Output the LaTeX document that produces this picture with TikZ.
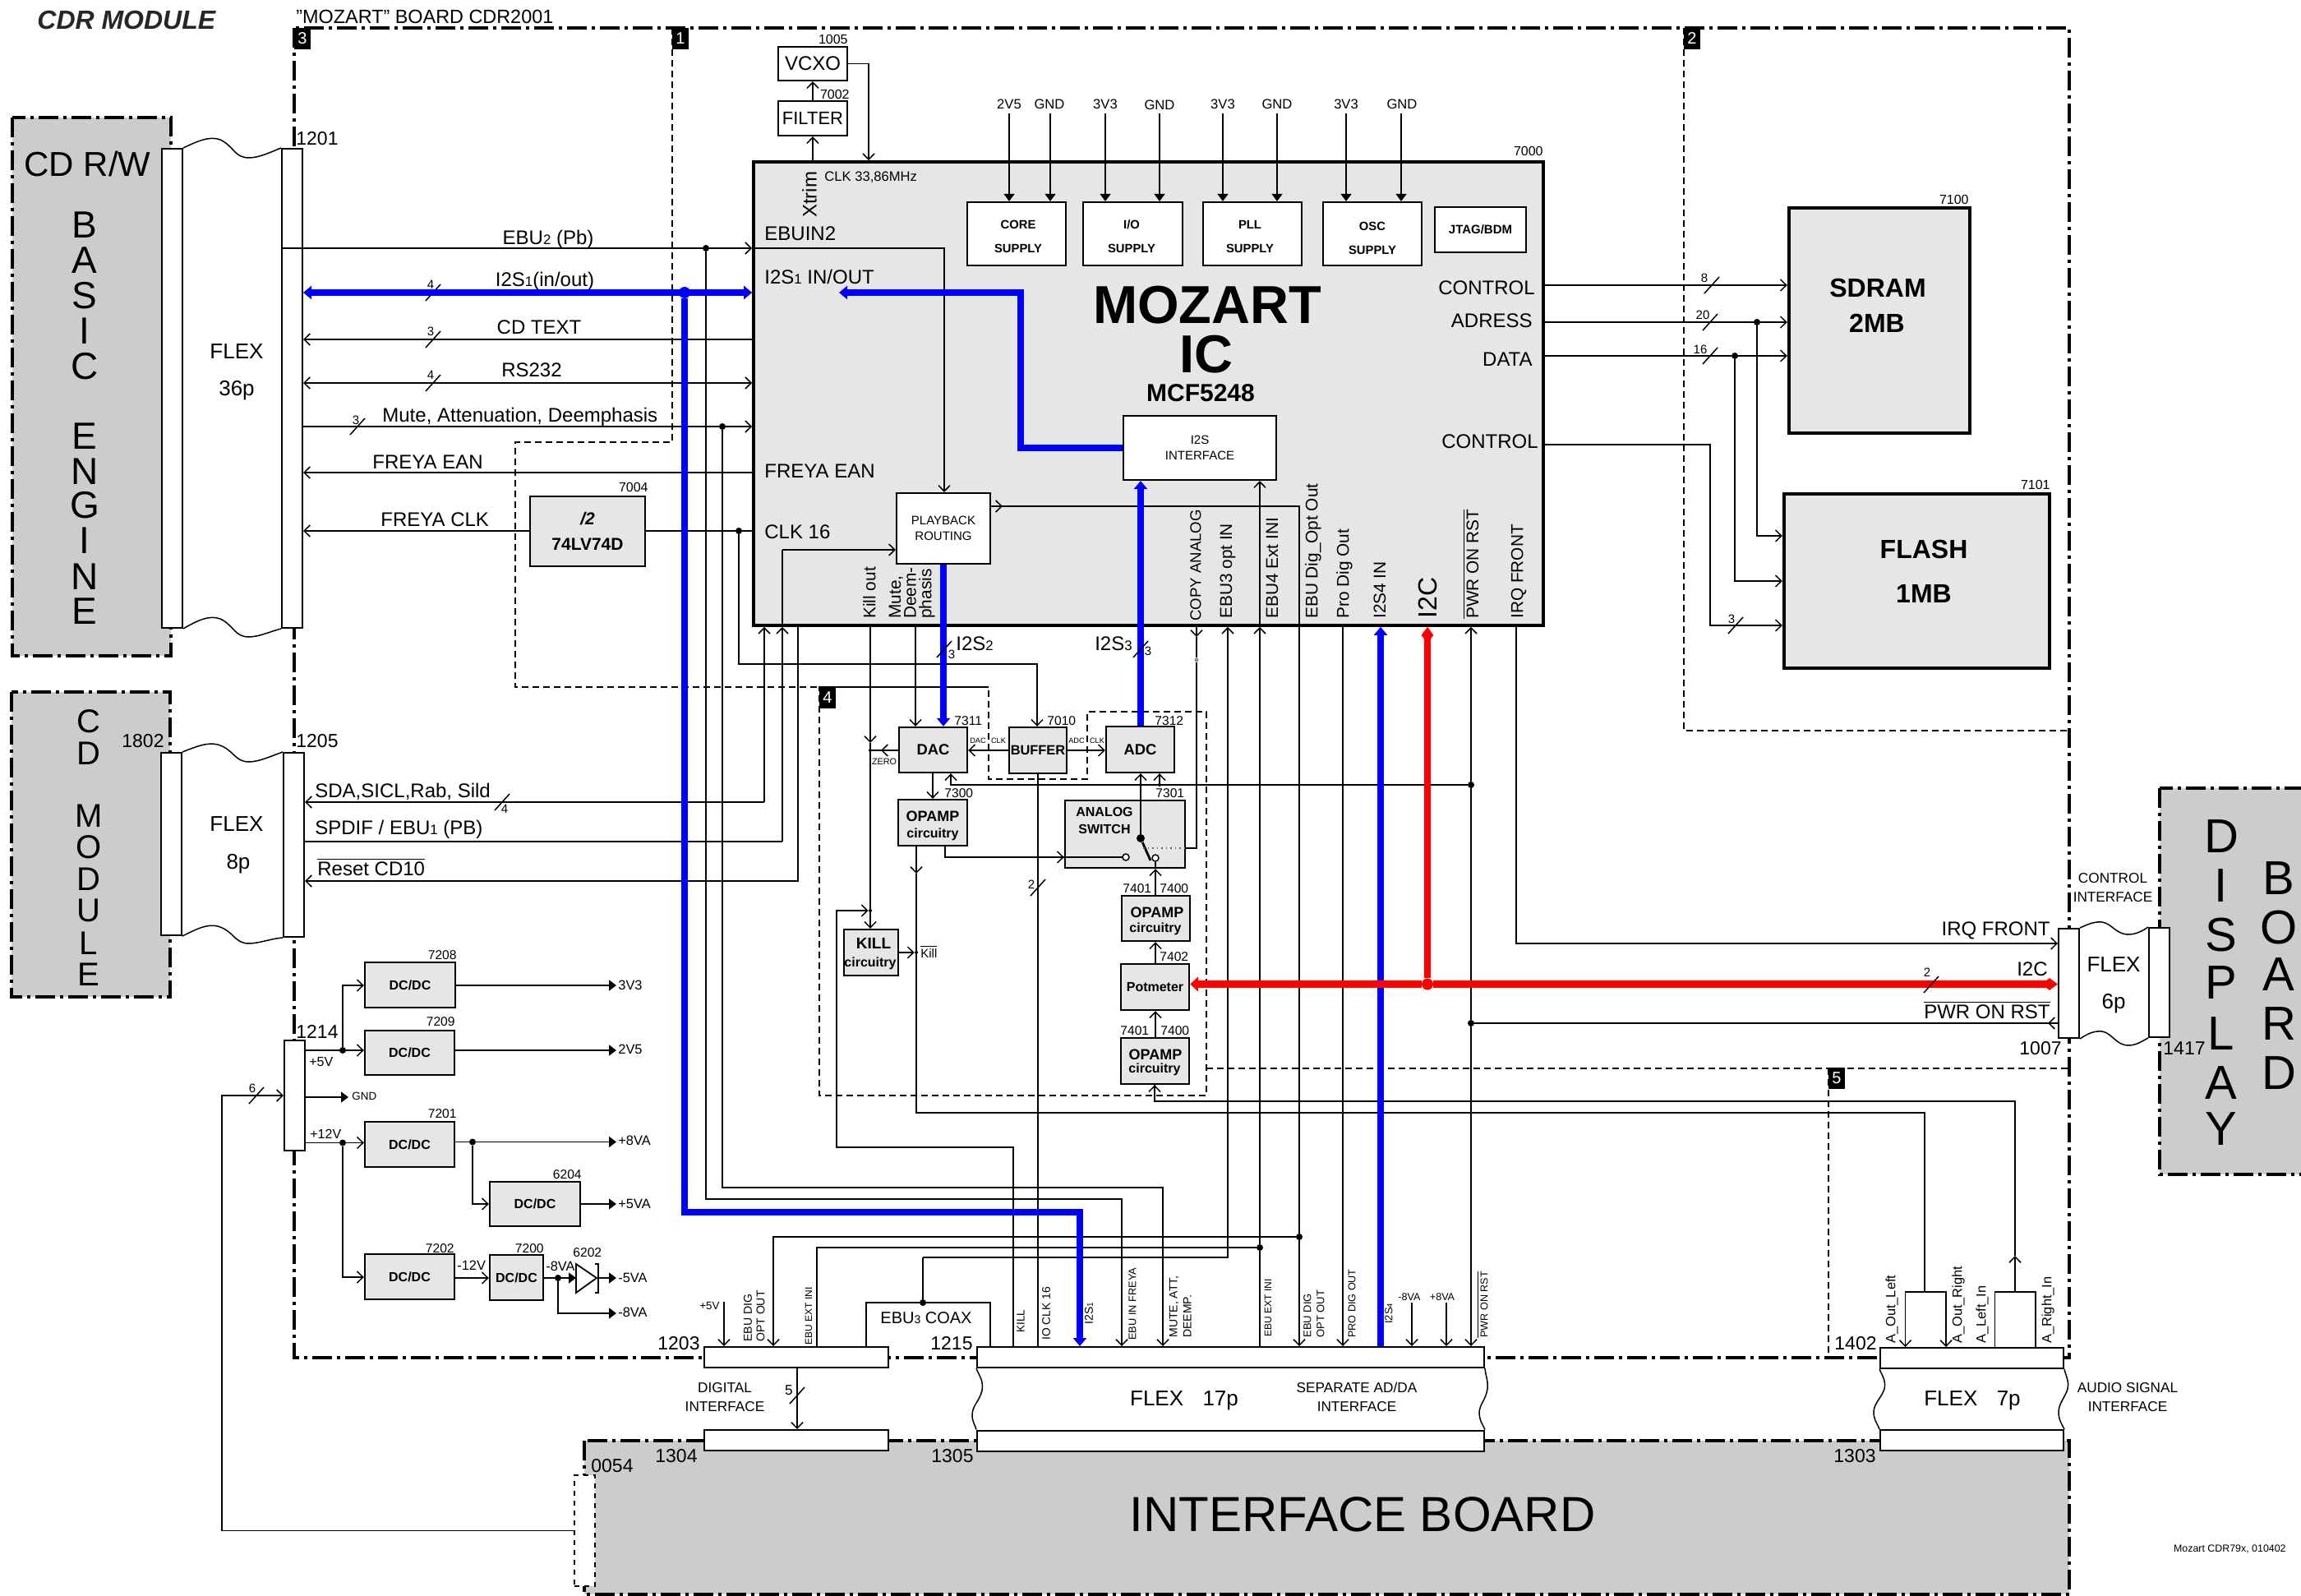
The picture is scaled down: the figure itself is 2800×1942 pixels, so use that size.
\documentclass[tikz,border=0pt]{standalone}
\usepackage{fontspec}
\usepackage{graphicx}
\setmainfont{Liberation Sans}
\usetikzlibrary{arrows.meta}
\definecolor{board}{RGB}{204,204,204}
\definecolor{chip}{RGB}{230,230,230}
\definecolor{busblue}{RGB}{0,0,255}
\definecolor{busred}{RGB}{255,0,0}
\newcommand{\lo}[1]{\scalebox{.7}{#1}}
\newcommand{\barred}[1]{$\overline{\mbox{#1}}$}
\tikzset{
	fsl/.style 2 args={font=\fontsize{#1}{#2}\selectfont,inner sep=0pt,align=center},
	fbl/.style 2 args={font=\bfseries\fontsize{#1}{#2}\selectfont,inner sep=0pt,align=center},
	fs/.style={fsl={#1}{#1}},
	fb/.style={fbl={#1}{#1}},
	wh/.style 2 args={minimum width=#1*0.5pt,minimum height=#2*0.5pt},
	blk/.style={draw,fill=chip,line width=1.2pt,inner sep=0pt},
	wblk/.style={draw,fill=white,line width=1.1pt,inner sep=0pt},
	strip/.style={draw,fill=white,line width=1pt,inner sep=0pt},
	tagbox/.style={fill=black,text=white,inner sep=0pt,font=\fontsize{10}{10}\selectfont},
	jdot/.style={circle,fill=black,inner sep=0pt,minimum size=4pt},
	jsmall/.style={circle,fill=black,inner sep=0pt,minimum size=2pt},
	sig/.style={line width=.75pt},
	sigto/.style={sig,-{Straight Barb[length=3.6pt,width=7pt]}},
	sigboth/.style={sig,{Straight Barb[length=3.6pt,width=7pt]}-{Straight Barb[length=3.6pt,width=7pt]}},
	pwrto/.style={sig,-{Triangle[length=4.5pt,width=6.5pt]}},
	blueb/.style={line width=3.8pt,busblue},
	redb/.style={line width=4.4pt,busred},
	frame/.style={line width=1.7pt,dash pattern=on 12pt off 3pt on 2pt off 3pt},
	sect/.style={line width=1pt,dash pattern=on 4pt off 2.5pt},
	cut/.pic={\draw[sig] (-9,10) -- (9,-10);}
}
\begin{document}
\begin{tikzpicture}[x=0.5pt,y=-0.5pt]
	\useasboundingbox (0,0) rectangle (2800,1942);
	% boards and frames
	\draw[frame,fill=board] (15,143) rectangle (208,798);
	\draw[frame,fill=board] (14,842) rectangle (207,1213);
	\draw[frame,fill=board] (2628,959) rectangle (2806,1429);
	\draw[frame,fill=board] (711,1753) rectangle (2518,1940);
	\draw[frame] (358,34) rectangle (2518,1652);
	\draw[sect] (818,34) -- (818,538) -- (627,538) -- (627,836) -- (1203,836) -- (1203,948) -- (1323,948) -- (1323,866) -- (1468,866) -- (1468,1333) -- (997,1333) -- (997,836) -- (1203,836);
	\draw[sect] (1468,1300) -- (2518,1300);
	\draw[sect] (2225,1300) -- (2225,1652);
	\draw[sect] (2049,34) -- (2049,889) -- (2518,889);
	\node[tagbox,wh={20}{26}] (tag3) at (368,47) {3};
	\node[tagbox,wh={20}{26}] (tag1) at (828,47) {1};
	\node[tagbox,wh={20}{26}] (tag2) at (2059,47) {2};
	\node[tagbox,wh={20}{26}] (tag4) at (1007,849) {4};
	\node[tagbox,wh={20}{26}] (tag5) at (2235,1312) {5};
	% titles
	\node[font=\bfseries\itshape\fontsize{16}{16}\selectfont,inner sep=0pt,text=black!85,anchor=west] (title) at (45,24) {CDR MODULE};
	\node[fs=11.7,anchor=west] (boardname) at (360,20) {"MOZART" BOARD CDR2001};
	\node[fs=21,anchor=west] (cdrw) at (29,199) {CD R/W};
	\node[fs=23] (b1) at (103,274) {B};
	\node[fs=23] (b2) at (103,317) {A};
	\node[fs=23] (b3) at (103,360) {S};
	\node[fs=23] (b4) at (103,403) {I};
	\node[fs=23] (b5) at (103,446) {C};
	\node[fs=23] (e1) at (103,531) {E};
	\node[fs=23] (e2) at (103,574) {N};
	\node[fs=23] (e3) at (103,615) {G};
	\node[fs=23] (e4) at (103,658) {I};
	\node[fs=23] (e5) at (103,702) {N};
	\node[fs=23] (e6) at (103,744) {E};
	\node[fs=20] (c1) at (108,878) {C};
	\node[fs=20] (c2) at (108,917) {D};
	\node[fs=20] (m1) at (108,993) {M};
	\node[fs=20] (m2) at (108,1031) {O};
	\node[fs=20] (m3) at (108,1070) {D};
	\node[fs=20] (m4) at (108,1108) {U};
	\node[fs=20] (m5) at (108,1148) {L};
	\node[fs=20] (m6) at (108,1186) {E};
	\node[fs=29] (d1) at (2703,1018) {D};
	\node[fs=29] (d2) at (2703,1078) {I};
	\node[fs=29] (d3) at (2703,1138) {S};
	\node[fs=29] (d4) at (2703,1196) {P};
	\node[fs=29] (d5) at (2703,1258) {L};
	\node[fs=29] (d6) at (2703,1318) {A};
	\node[fs=29] (d7) at (2703,1374) {Y};
	\node[fs=29] (o1) at (2773,1069) {B};
	\node[fs=29] (o2) at (2773,1129) {O};
	\node[fs=29] (o3) at (2773,1186) {A};
	\node[fs=29] (o4) at (2773,1246) {R};
	\node[fs=29] (o5) at (2773,1306) {D};
	\node[fs=30] (ifboard) at (1658,1843) {INTERFACE BOARD};
	\node[fs=6.2,anchor=east] (stamp) at (2782,1885) {Mozart CDR79x, 010402};
	% flex connectors
	\node[strip,wh={25}{583}] (s1201a) at (209.5,472.5) {};
	\node[strip,wh={25}{583}] (s1201b) at (355.5,472.5) {};
	\node[strip,wh={25}{222}] (s1802) at (208.5,1027) {};
	\node[strip,wh={25}{224}] (s1205) at (357.5,1028) {};
	\node[strip,wh={25}{134}] (s1214) at (358.5,1333) {};
	\node[strip,wh={25}{133}] (s1007) at (2517.5,1196.5) {};
	\node[strip,wh={25}{133}] (s1417) at (2627.5,1195.5) {};
	\node[strip,wh={224}{25}] (c1203) at (969,1651.5) {};
	\node[strip,wh={224}{25}] (c1304) at (969,1752.5) {};
	\node[strip,wh={617}{25}] (f17a) at (1497.5,1651.5) {};
	\node[strip,wh={617}{25}] (f17b) at (1497.5,1753) {};
	\node[strip,wh={223}{25}] (f7a) at (2399.5,1652.5) {};
	\node[strip,wh={223}{25}] (f7b) at (2399.5,1752.5) {};
	\node[strip,dashed,wh={25}{135}] (s0054) at (711.5,1862.5) {};
	\draw[sig] (s1201a.north east) .. controls (240,172) and (255,165) .. (268,170) .. controls (285,178) and (285,192) .. (303,192) .. controls (315,192) and (330,185) .. (s1201b.north west);
	\draw[sig] (s1201a.south east) .. controls (240,755) and (255,748) .. (268,753) .. controls (285,761) and (285,775) .. (303,775) .. controls (315,775) and (330,768) .. (s1201b.south west);
	\draw[sig] (s1802.north east) .. controls (240,908) and (252,903) .. (265,906) .. controls (285,912) and (285,927) .. (303,927) .. controls (315,927) and (330,920) .. (s1205.north west);
	\draw[sig] (s1802.south east) .. controls (240,1130) and (252,1124) .. (265,1127) .. controls (285,1133) and (285,1148) .. (303,1148) .. controls (315,1148) and (330,1142) .. (s1205.south west);
	\draw[sig] (s1007.north east) .. controls (2540,1125) and (2548,1121) .. (2558,1122) .. controls (2570,1124) and (2575,1137) .. (2590,1137) .. controls (2600,1137) and (2608,1132) .. (s1417.north west);
	\draw[sig] (s1007.south east) .. controls (2540,1258) and (2548,1254) .. (2558,1255) .. controls (2570,1257) and (2575,1272) .. (2590,1272) .. controls (2600,1272) and (2608,1266) .. (s1417.south west);
	\draw[sig] (f17a.south west) .. controls (1192,1675) and (1197,1680) .. (1195,1692) .. controls (1192,1705) and (1183,1710) .. (1183,1722) .. controls (1183,1730) and (1187,1735) .. (f17b.north west);
	\draw[sig] (f17a.south east) .. controls (1808,1675) and (1811,1680) .. (1810,1690) .. controls (1808,1703) and (1801,1708) .. (1800,1718) .. controls (1800,1728) and (1804,1733) .. (f17b.north east);
	\draw[sig] (f7a.south west) .. controls (2291,1675) and (2295,1680) .. (2293,1690) .. controls (2290,1700) and (2280,1708) .. (2280,1718) .. controls (2280,1728) and (2285,1733) .. (f7b.north west);
	\draw[sig] (f7a.south east) .. controls (2514,1675) and (2518,1680) .. (2516,1690) .. controls (2513,1700) and (2505,1708) .. (2505,1718) .. controls (2505,1728) and (2509,1733) .. (f7b.north east);
	\node[fs=13] (flex36) at (288,428) {FLEX};
	\node[fs=13] (p36) at (288,475) {36p};
	\node[fs=13] (flex8) at (288,1003) {FLEX};
	\node[fs=13] (p8) at (290,1051) {8p};
	\node[fs=13] (flex6) at (2572,1174) {FLEX};
	\node[fs=13] (p6) at (2572,1221) {6p};
	\node[fs=13] (flex17) at (1441,1704) {FLEX\hspace{.9em}17p};
	\node[fs=13] (flex7) at (2400,1704) {FLEX\hspace{.9em}7p};
	\node[fsl={8.6}{11.5}] (sepif) at (1651,1700) {SEPARATE AD/DA\\INTERFACE};
	\node[fsl={8.6}{11.5}] (digif) at (882,1700) {DIGITAL\\INTERFACE};
	\node[fsl={8.6}{11.5}] (audif) at (2589,1700) {AUDIO SIGNAL\\INTERFACE};
	\node[fsl={8.6}{11.5}] (ctlif) at (2571,1080) {CONTROL\\INTERFACE};
	\node[fs=11.5,anchor=west] (n1201) at (360,169) {1201};
	\node[fs=11.5,anchor=west] (n1802) at (148,902) {1802};
	\node[fs=11.5,anchor=west] (n1205) at (360,902) {1205};
	\node[fs=11.5,anchor=west] (n1214) at (360,1255) {1214};
	\node[fs=11.5,anchor=west] (n1007) at (2457,1276) {1007};
	\node[fs=11.5,anchor=west] (n1417) at (2632,1276) {1417};
	\node[fs=11.5,anchor=west] (n1203) at (800,1635) {1203};
	\node[fs=11.5,anchor=west] (n1215) at (1132,1635) {1215};
	\node[fs=11.5,anchor=west] (n1304) at (797,1772) {1304};
	\node[fs=11.5,anchor=west] (n1305) at (1133,1772) {1305};
	\node[fs=11.5,anchor=west] (n1402) at (2232,1635) {1402};
	\node[fs=11.5,anchor=west] (n1303) at (2231,1772) {1303};
	\node[fs=11.5,anchor=west] (n0054) at (719,1784) {0054};
	% main chip
	\node[blk,line width=1.8pt,wh={961}{564}] (ic) at (1397.5,479) {};
	\node[wblk,wh={84}{41}] (vcxo) at (989,77.5) {\fontsize{12}{12}\selectfont VCXO};
	\node[wblk,wh={84}{42}] (filter) at (989,144) {\fontsize{11}{11}\selectfont FILTER};
	\node[fs=8,anchor=east] (n1005) at (1032,48) {1005};
	\node[fs=8,anchor=east] (n7002) at (1034,115) {7002};
	\node[fs=8,anchor=east] (n7000) at (1878,184) {7000};
	\node[wblk,wh={120}{77}] (core) at (1237,284.5) {};
	\node[wblk,wh={121}{77}] (iosup) at (1378.5,284.5) {};
	\node[wblk,wh={120}{77}] (pll) at (1524,284.5) {};
	\node[wblk,wh={120}{77}] (osc) at (1670,284.5) {};
	\node[fbl={7.4}{14.5}] (coret) at (1239,288) {CORE\\SUPPLY};
	\node[fbl={7.4}{14.5}] (iosupt) at (1377,288) {I/O\\SUPPLY};
	\node[fbl={7.4}{14.5}] (pllt) at (1521,288) {PLL\\SUPPLY};
	\node[fbl={7.4}{14.5}] (osct) at (1670,290) {OSC\\SUPPLY};
	\node[wblk,fb=7.5,wh={111}{55}] (jtag) at (1801.5,279.5) {JTAG/BDM};
	\node[fb=32.5] (mozart) at (1469,371) {MOZART};
	\node[fb=32.5] (mozic) at (1468,431) {IC};
	\node[fb=15] (mcf) at (1461,478) {MCF5248};
	\node[wblk,fsl={7.5}{9.2},wh={186}{78}] (i2sbox) at (1460,545) {I2S\\INTERFACE};
	\node[wblk,fsl={7.5}{9.2},wh={114}{86}] (playback) at (1148,643) {PLAYBACK\\ROUTING};
	\node[fs=12,anchor=west] (ebuin) at (930,284) {EBUIN2};
	\node[fs=12,anchor=west] (i2sio) at (930,337) {I2S\lo{1} IN/OUT};
	\node[fs=12,anchor=west] (freyain) at (930,573) {FREYA EAN};
	\node[fs=12,anchor=west] (clk16) at (930,647) {CLK 16};
	\node[fs=12,anchor=east] (ctl1) at (1868,350) {CONTROL};
	\node[fs=12,anchor=east] (adr) at (1865,390) {ADRESS};
	\node[fs=12,anchor=east] (dta) at (1865,437) {DATA};
	\node[fs=12,anchor=east] (ctl2) at (1872,537) {CONTROL};
	\node[fs=12,rotate=90] (xtrim) at (985,237) {Xtrim};
	\node[fs=8.3,anchor=west] (clk33) at (1003,216) {CLK 33,86MHz};
	\node[fs=10.4,rotate=90,anchor=west] (kout) at (1058,753) {Kill out};
	\node[fsl={10.4}{9.3},rotate=90,anchor=south west,align=left] (mute) at (1138,753) {Mute,\\Deem-\\phasis};
	\node[fs=9.3,rotate=90,anchor=west] (copy) at (1455,756) {COPY ANALOG};
	\node[fs=10.4,rotate=90,anchor=west] (ebu3) at (1494,753) {EBU3 opt IN};
	\node[fs=10.4,rotate=90,anchor=west] (ebu4) at (1548,753) {EBU4 Ext INI};
	\node[fs=10.4,rotate=90,anchor=west] (ebud) at (1598,753) {EBU Dig\_Opt Out};
	\node[fs=10.4,rotate=90,anchor=west] (pro) at (1636,753) {Pro Dig Out};
	\node[fs=10.4,rotate=90,anchor=west] (i2s4) at (1679,753) {I2S4 IN};
	\node[fs=16,rotate=90,anchor=west] (i2c) at (1737,753) {I2C};
	\node[fs=10.4,rotate=90,anchor=west] (pwr) at (1790,753) {\barred{PWR ON RST}};
	\node[fs=10.4,rotate=90,anchor=west] (irq) at (1848,753) {IRQ FRONT};
	% memories
	\node[blk,line width=2.2pt,wh={220}{274}] (sdram) at (2287,390) {};
	\node[fb=16] (sdramt) at (2285,350) {SDRAM};
	\node[fb=16] (sdramm) at (2284,393) {2MB};
	\node[blk,line width=2.2pt,wh={323}{212}] (flash) at (2332.5,707) {};
	\node[fb=16] (flasht) at (2341,668) {FLASH};
	\node[fb=16] (flashm) at (2341,722) {1MB};
	\node[fs=8,anchor=east] (n7100) at (2396,243) {7100};
	\node[fs=8,anchor=east] (n7101) at (2495,590) {7101};
	% audio blocks
	\node[blk,fbl={10.5}{15.5},wh={140}{85}] (lv74) at (715,646.5) {\textit{/2}\\74LV74D};
	\node[fs=8,anchor=east] (n7004) at (789,593) {7004};
	\node[blk,fb=9.2,wh={83}{55}] (dac) at (1135.5,912.5) {DAC};
	\node[blk,fb=8.2,wh={70}{56}] (buffer) at (1263,913) {BUFFER};
	\node[blk,fb=9.2,wh={83}{56}] (adc) at (1387.5,912) {ADC};
	\node[blk,wh={84}{56}] (opa) at (1135,1001) {};
	\node[fb=9] (opat) at (1135,993) {OPAMP};
	\node[fb=8] (opac) at (1135,1015) {circuitry};
	\node[blk,wh={146}{82}] (switch) at (1369,1015) {};
	\node[fbl={8}{10.5},anchor=north] (swt) at (1344,982) {ANALOG\\SWITCH};
	\node[blk,wh={66}{56}] (kill) at (1060,1159) {};
	\node[fb=9.5] (killt) at (1063,1148) {KILL};
	\node[fb=8] (killc) at (1059,1172) {circuitry};
	\node[blk,wh={83}{55}] (opb) at (1406.5,1117.5) {};
	\node[fb=9] (opbt) at (1408,1110) {OPAMP};
	\node[fb=8] (opbc) at (1406,1130) {circuitry};
	\node[blk,fb=8,wh={83}{56}] (pot) at (1405.5,1201) {Potmeter};
	\node[blk,wh={83}{56}] (opc) at (1405.5,1291) {};
	\node[fb=9] (opct) at (1406,1283) {OPAMP};
	\node[fb=8] (opcc) at (1405,1301) {circuitry};
	\node[fs=7.8,anchor=west] (n7311) at (1161,877) {7311};
	\node[fs=7.8,anchor=west] (n7010) at (1274,877) {7010};
	\node[fs=7.8,anchor=west] (n7312) at (1405,877) {7312};
	\node[fs=7.8,anchor=west] (n7300) at (1149,965) {7300};
	\node[fs=7.8,anchor=west] (n7301) at (1406,965) {7301};
	\node[fs=7.8,anchor=west] (n7401a) at (1366,1081) {7401};
	\node[fs=7.8,anchor=west] (n7400a) at (1411,1081) {7400};
	\node[fs=7.8,anchor=west] (n7402) at (1411,1164) {7402};
	\node[fs=7.8,anchor=west] (n7401b) at (1363,1254) {7401};
	\node[fs=7.8,anchor=west] (n7400b) at (1412,1254) {7400};
	\node[fs=4.6] (tdac) at (1190,901) {DAC};
	\node[fs=4.6] (tclka) at (1215,901) {CLK};
	\node[fs=4.6] (tadc) at (1310,901) {ADC};
	\node[fs=4.6] (tclkb) at (1335,901) {CLK};
	\node[fs=5.4] (tzero) at (1076,927) {ZERO};
	\node[fs=7.5,anchor=west] (tkill) at (1120,1158) {\barred{Kill}};
	% power blocks
	\node[blk,fb=8,wh={110}{55}] (d7208) at (499,1198.5) {DC/DC};
	\node[blk,fb=8,wh={109}{54}] (d7209) at (498.5,1281) {DC/DC};
	\node[blk,fb=8,wh={109}{55}] (d7201) at (498.5,1392.5) {DC/DC};
	\node[blk,fb=8,wh={110}{54}] (d6204) at (651,1465) {DC/DC};
	\node[blk,fb=8,wh={109}{55}] (d7202) at (498.5,1553.5) {DC/DC};
	\node[blk,fb=8,wh={65}{55}] (d7200) at (628.5,1554.5) {DC/DC};
	\node[fs=7.8,anchor=east] (n7208) at (556,1162) {7208};
	\node[fs=7.8,anchor=east] (n7209) at (554,1243) {7209};
	\node[fs=7.8,anchor=east] (n7201) at (556,1355) {7201};
	\node[fs=7.8,anchor=east] (n6204) at (708,1429) {6204};
	\node[fs=7.8,anchor=east] (n7202) at (553,1519) {7202};
	\node[fs=7.8,anchor=east] (n7200) at (662,1519) {7200};
	\node[fs=7.8,anchor=west] (n6202) at (697,1524) {6202};
	\coordinate (dioa) at (701,1555);
	\coordinate (diob) at (728,1555);
	\draw[line width=.9pt] (701,1538) -- (701,1573) -- (726,1555) -- cycle;
	\draw[line width=.9pt] (724,1538) -- (728,1538) -- (728,1573) -- (724,1573);
	% junctions
	\node[jdot] (jebu) at (859,302) {};
	\node[jdot] (jmute) at (879,519) {};
	\node[jdot] (jclk) at (899,646) {};
	\node[jdot] (jrst) at (1790,955) {};
	\node[jdot] (jpwr) at (1790,1245) {};
	\node[jdot] (jcoax) at (1123,1585) {};
	\node[jdot] (jext) at (1533,1518) {};
	\node[jdot] (jdig) at (1581,1505) {};
	\node[jdot] (jadr) at (2138,392) {};
	\node[jdot] (jdata) at (2111,433) {};
	\node[jdot] (j5v) at (417,1278) {};
	\node[jdot] (j12v) at (417,1390.5) {};
	\node[jdot] (j8va) at (575,1389.5) {};
	\node[jdot] (jneg) at (679,1555) {};
	\node[jsmall] (jzero) at (1059,913) {};
	\node[jsmall] (jkill) at (1059,1108) {};
	\node[jsmall] (jkbar) at (1115,1159) {};
	\node[jsmall] (jadc) at (1411,955) {};
	\node[circle,fill=black!45,inner sep=0pt,minimum size=2.5pt] (jcopy) at (1456,803) {};
	% rails to the CD R/W flex
	\draw[sigto] (s1201b.west |- jebu) -- (ic.west |- jebu);
	\draw[sigto] (ic.west |- 0,413) -- (s1201b.east |- 0,413);
	\draw[sigboth] (s1201b.east |- 0,466) -- (ic.west |- 0,466);
	\draw[sigto] (s1201b.east |- jmute) -- (ic.west |- jmute);
	\draw[sigto] (ic.west |- 0,575) -- (s1201b.east |- 0,575);
	\draw[sigto] (lv74.west |- jclk) -- (s1201b.east |- jclk);
	\draw[sig] (ic.west |- jclk) -- (lv74.east |- jclk);
	\pic at (527,356) {cut};
	\pic at (527,413) {cut};
	\pic at (527,466) {cut};
	\pic at (435,519) {cut};
	\node[fs=7.5] (c4a) at (524,346) {4};
	\node[fs=7.5] (c3a) at (524,403) {3};
	\node[fs=7.5] (c4b) at (524,456) {4};
	\node[fs=7.5] (c3b) at (433,511) {3};
	\node[fs=12] (tebu) at (667,291) {EBU\lo{2} (Pb)};
	\node[fs=12] (ti2s) at (663,342) {I2S\lo{1}(in/out)};
	\node[fs=12] (ttext) at (656,398) {CD TEXT};
	\node[fs=12] (trs) at (647,450) {RS232};
	\node[fs=12,anchor=west] (tmute) at (465,507) {Mute, Attenuation, Deemphasis};
	\node[fs=12,anchor=west] (tfean) at (453,562) {FREYA EAN};
	\node[fs=12,anchor=west] (tfclk) at (463,632) {FREYA CLK};
	% rails to the CD module flex
	\draw[sigto] (930,976) -- (ic.south -| 930,0);
	\draw[sigto] (930,976) -- (s1205.east |- 0,976);
	\draw[sig] (s1205.east |- 0,1024) -- (952,1024);
	\draw[sigto] (952,1024) -- (ic.south -| 952,0);
	\draw[sig] (ic.south -| 952,0) -- (952,669);
	\draw[sigto] (952,669) -- (playback.west |- 0,669);
	\draw[sigto] (ic.south -| 971,0) -- (971,1072) -- (s1205.east |- 0,1072);
	\pic at (611,976) {cut};
	\node[fs=7.5] (c4c) at (614,984) {4};
	\node[fs=12,anchor=west] (tsda) at (383,963) {SDA,SICL,Rab, Sild};
	\node[fs=12,anchor=west] (tspdif) at (383,1009) {SPDIF / EBU\lo{1} (PB)};
	\node[fs=12,anchor=west] (treset) at (386,1055) {\barred{Reset CD10}};
	% clock section
	\draw[sigto] (filter.south |- ic.north) -- (filter.south);
	\draw[sigto] (filter.north) -- (vcxo.south);
	\draw[sigto] (vcxo.east) -- (1057,77.5) -- (ic.north -| 1057,0);
	% supply feeds
	\coordinate (p1) at (1228,138);
	\coordinate (p2) at (1278,138);
	\coordinate (p3) at (1345,138);
	\coordinate (p4) at (1411,138);
	\coordinate (p5) at (1488,138);
	\coordinate (p6) at (1554,138);
	\coordinate (p7) at (1638,138);
	\coordinate (p8) at (1705,138);
	\draw[pwrto] (p1) -- (core.north -| p1);
	\draw[pwrto] (p2) -- (core.north -| p2);
	\draw[pwrto] (p3) -- (iosup.north -| p3);
	\draw[pwrto] (p4) -- (iosup.north -| p4);
	\draw[pwrto] (p5) -- (pll.north -| p5);
	\draw[pwrto] (p6) -- (pll.north -| p6);
	\draw[pwrto] (p7) -- (osc.north -| p7);
	\draw[pwrto] (p8) -- (osc.north -| p8);
	\node[fs=8.3] (v1) at (1228,127) {2V5};
	\node[fs=8.3] (g1) at (1277,127) {GND};
	\node[fs=8.3] (v2) at (1345,127) {3V3};
	\node[fs=8.3] (g2) at (1411,128) {GND};
	\node[fs=8.3] (v3) at (1488,127) {3V3};
	\node[fs=8.3] (g3) at (1554,127) {GND};
	\node[fs=8.3] (v4) at (1638,127) {3V3};
	\node[fs=8.3] (g4) at (1706,127) {GND};
	% memory rails
	\draw[sigto] (ic.east |- 0,347) -- (sdram.west |- 0,347);
	\draw[sigto] (ic.east |- jadr) -- (sdram.west |- jadr);
	\draw[sigto] (ic.east |- jdata) -- (sdram.west |- jdata);
	\draw[sigto] (jadr) -- (2138,652) -- (flash.west |- 0,652);
	\draw[sigto] (jdata) -- (2111,707) -- (flash.west |- 0,707);
	\draw[sigto] (ic.east |- 0,541) -- (2081,541) -- (2081,761) -- (flash.west |- 0,761);
	\pic at (2083,347) {cut};
	\pic at (2081,392) {cut};
	\pic at (2081,433) {cut};
	\pic at (2112,761) {cut};
	\node[fs=7.5] (c8) at (2074,338) {8};
	\node[fs=7.5] (c20) at (2072,383) {20};
	\node[fs=7.5] (c16) at (2069,425) {16};
	\node[fs=7.5] (c3c) at (2107,753) {3};
	% long runs to the flex 17p
	\draw[sigto] (jebu) -- (859,1459) -- (1365,1459) -- (f17a.north -| 1365,0);
	\draw[sigto] (jmute) -- (879,1445) -- (1415,1445) -- (f17a.north -| 1415,0);
	\draw[sigto] (jclk) -- (899,808) -- (1262,808) -- (buffer.north -| 1262,0);
	\draw[sigto] (ic.west |- jebu) -- (1149,302) -- (playback.north -| 1149,0);
	\draw[sigto] (ic.south -| jzero) -- (1059,904);
	\draw[sigto] (1059,904) -- (kill.north -| jzero);
	\draw[sig] (dac.west |- jzero) -- (jzero);
	\draw[sigto] (dac.west |- jzero) -- (1072,913);
	\draw[sigto] (ic.south -| 1114,0) -- (dac.north -| 1114,0);
	\draw[sigto] (buffer.west |- 0,913) -- (dac.east |- 0,913);
	\draw[sigto] (buffer.east |- 0,913) -- (adc.west |- 0,913);
	\draw[sigto] (dac.south -| 1135,0) -- (opa.north);
	\draw[sigto] (jrst) -- (1157,955) -- (dac.south -| 1157,0);
	\draw[sigto] (jadc) -- (adc.south -| jadc);
	\draw[sigto] (opa.south -| 1115,0) -- (1115,1063);
	\draw[sig] (1115,1063) -- (1115,1354) -- (2342,1354) -- (2342,1572);
	\draw[sig] (opa.south -| 1150,0) -- (1150,1043) -- (1370,1043);
	\draw[sigto] (1150,1043) -- (switch.west |- 0,1043);
	\draw[sig] (buffer.south) -- (f17a.north -| buffer.south);
	\pic at (1263,1080) {cut};
	\node[fs=7.5] (c2a) at (1255,1076) {2};
	\draw[sigto] (f17a.north -| 1233,0) -- (1233,1396) -- (1018,1396) -- (1018,1108) -- (jkill);
	\draw[sigto] (kill.east |- jkbar) -- (jkbar);
	% analog switch
	\coordinate (piv) at (1388,1020);
	\draw[sigto] (piv) -- (adc.south -| piv);
	\node[circle,draw,fill=white,sig,inner sep=0pt,minimum size=4pt] (swa) at (1370,1043) {};
	\node[circle,draw,fill=white,sig,inner sep=0pt,minimum size=4pt] (swb) at (1406,1044) {};
	\node[circle,fill=black,inner sep=0pt,minimum size=5pt] (swp) at (piv) {};
	\draw[line width=1.4pt] (swp) -- (1400,1047);
	\draw[sig,dotted,black!60] (1391,1032) -- (switch.east |- 0,1032);
	\draw[sig] (switch.east |- 0,1032) -- (1456,1032) -- (jcopy);
	\draw[sig] (jcopy) -- (1456,775);
	\draw[sigto] (ic.south -| jcopy) -- (1456,775);
	\draw[sigto] (opb.north -| swb) -- (switch.south -| swb);
	\draw[sig] (switch.south -| swb) -- (swb);
	\draw[sigto] (pot.north -| 1406,0) -- (opb.south -| 1406,0);
	\draw[sigto] (opc.north -| 1406,0) -- (pot.south -| 1406,0);
	\draw[sigto] (2452,1572) -- (2452,1528);
	\draw[sig] (2452,1528) -- (2452,1340) -- (1405,1340) -- (opc.south -| 1405,0);
	\draw[sigto] (1405,1340) -- (opc.south -| 1405,0);
	% inputs on the lower chip edge
	\draw[sigto] (jext) -- (ic.south -| jext);
	\draw[sigto] (ic.south -| jext) -- (i2sbox.south -| jext);
	\draw[sig] (jext) -- (f17a.north -| jext);
	\draw[sig] (jext) -- (994,1518) -- (c1203.north -| 994,0);
	\draw[sigto] (1123,1530) -- (1494,1530) -- (ic.south -| 1494,0);
	\draw[sig] (jcoax) -- (1123,1530);
	\draw[sig] (c1203.north -| 1054,0) -- (1054,1585) -- (1205,1585) -- (f17a.north -| 1205,0);
	\node[fs=10] (tcoax) at (1127,1604) {EBU\lo{3} COAX};
	\draw[sig] (playback.east |- 0,616) -- (1581,616) -- (jdig);
	\draw[sigto] (playback.east |- 0,616) -- (1220,616);
	\draw[sigto] (jdig) -- (f17a.north -| jdig);
	\draw[sigto] (jdig) -- (941,1505) -- (c1203.north -| 941,0);
	\draw[sigto] (ic.south -| 1634,0) -- (f17a.north -| 1634,0);
	\draw[sigto] (jpwr) -- (f17a.north -| jpwr);
	\draw[sigto] (jrst) -- (ic.south -| jrst);
	\draw[sig] (jrst) -- (jpwr);
	\draw[sigto] (1718,1585) -- (f17a.north -| 1718,0);
	\draw[sigto] (1760,1585) -- (f17a.north -| 1760,0);
	\draw[sigto] (881,1584) -- (c1203.north -| 881,0);
	\draw[sigto] (c1203.south -| 970,0) -- (c1304.north -| 970,0);
	\pic at (970,1698) {cut};
	\node[fs=8.6] (c5) at (960,1692) {5};
	\node[fs=6.7,anchor=east] (t5v) at (876,1589) {+5V};
	\node[fsl={7}{7.75},rotate=90,anchor=south west,align=left] (tdig) at (931,1633) {EBU DIG\\OPT OUT};
	\node[fs=6,rotate=90,anchor=west] (text1) at (984,1637) {EBU EXT INI};
	\node[fs=6.7,rotate=90,anchor=west] (tkil) at (1242,1622) {KILL};
	\node[fs=6.9,rotate=90,anchor=west] (tio) at (1273,1631) {IO CLK 16};
	\node[fs=7,rotate=90,anchor=west] (ti2) at (1325,1612) {I2S\lo{1}};
	\node[fs=6.4,rotate=90,anchor=west] (tfr) at (1378,1631) {EBU IN FREYA};
	\node[fsl={7}{8.5},rotate=90,anchor=south west,align=left] (tmat) at (1450,1628) {MUTE, ATT,\\DEEMP.};
	\node[fs=6,rotate=90,anchor=west] (text2) at (1543,1627) {EBU EXT INI};
	\node[fsl={6.5}{8},rotate=90,anchor=south west,align=left] (tdg2) at (1612,1628) {EBU DIG\\OPT OUT};
	\node[fs=6.3,rotate=90,anchor=west] (tpro) at (1645,1628) {PRO DIG OUT};
	\node[fs=6.5,rotate=90,anchor=west] (ti4) at (1690,1611) {I2S\lo{4}};
	\node[fs=6.3] (tm8) at (1715,1578) {-8VA};
	\node[fs=6.3] (tp8) at (1755,1578) {+8VA};
	\node[fs=6.3,rotate=90,anchor=west] (tpw) at (1804,1628) {\barred{PWR ON RST}};
	% display side
	\draw[sigto] (ic.south -| 1845,0) -- (1845,1148) -- (s1007.west |- 0,1148);
	\draw[sig] (jpwr) -- (s1007.west |- jpwr);
	\draw[sigto] (s1007.west |- jpwr) -- (2492,1245);
	\node[fs=12,anchor=east] (tirq) at (2495,1132) {IRQ FRONT};
	\node[fs=12,anchor=east] (tic2) at (2492,1179) {I2C};
	\node[fs=12,anchor=east] (tpwr) at (2495,1229) {\barred{PWR ON RST}};
	% flex 7p
	\draw[sigto] (2342,1572) -- (2318.5,1572) -- (f7a.north -| 2318.5,0);
	\draw[sigto] (2342,1572) -- (2368,1572) -- (f7a.north -| 2368,0);
	\draw[sig] (f7a.north -| 2427.5,0) -- (2427.5,1572) -- (2477,1572) -- (f7a.north -| 2477,0);
	\node[fs=8.2,rotate=90,anchor=west] (tal) at (2302,1635) {A\_Out\_Left};
	\node[fs=8.2,rotate=90,anchor=west] (tar) at (2383,1635) {A\_Out\_Right};
	\node[fs=8.2,rotate=90,anchor=west] (til) at (2412,1635) {A\_Left\_In};
	\node[fs=8.2,rotate=90,anchor=west] (tir) at (2492,1635) {A\_Right\_In};
	% power tree
	\draw[sigto] (s1214.east |- j5v) -- (d7209.west |- j5v);
	\draw[sigto] (j5v) -- (417,1199) -- (d7208.west |- 0,1199);
	\draw[pwrto] (s1214.east |- 0,1335) -- (424,1335);
	\draw[sigto] (s1214.east |- j12v) -- (d7201.west |- j12v);
	\draw[sigto] (j12v) -- (417,1554) -- (d7202.west |- 0,1554);
	\draw[pwrto] (d7208.east |- 0,1199) -- (750,1199);
	\draw[pwrto] (d7209.east |- j5v) -- (750,1278);
	\draw[pwrto] (d7201.east |- j8va) -- (750,1389.5);
	\draw[sigto] (j8va) -- (575,1465) -- (d6204.west |- 0,1465);
	\draw[pwrto] (d6204.east |- 0,1465) -- (750,1465);
	\draw[sigto] (d7202.east |- jneg) -- (d7200.west |- jneg);
	\draw[pwrto] (d7200.east |- jneg) -- (dioa);
	\draw[pwrto] (jneg) -- (679,1598) -- (750,1598);
	\draw[pwrto] (diob) -- (750,1555);
	\draw[sigto] (s0054.west) -- (270,1862.5) -- (270,1333) -- (s1214.west |- 0,1333);
	\pic at (312,1333) {cut};
	\node[fs=7.5] (c6) at (307,1324) {6};
	\node[fs=8,anchor=west] (t5) at (376,1292) {+5V};
	\node[fs=6.7,anchor=west] (tg) at (428,1334) {GND};
	\node[fs=8,anchor=west] (t12) at (377,1380) {+12V};
	\node[fs=8.2,anchor=west] (o3v) at (752,1199) {3V3};
	\node[fs=8.2,anchor=west] (o2v) at (752,1277) {2V5};
	\node[fs=8.2,anchor=west] (o8) at (752,1388) {+8VA};
	\node[fs=8.2,anchor=west] (o5) at (752,1465) {+5VA};
	\node[fs=8.2,anchor=west] (om5) at (752,1555) {-5VA};
	\node[fs=8.2,anchor=west] (om8) at (752,1597) {-8VA};
	\node[fs=8.2,anchor=west] (tm12) at (556,1540) {-12V};
	\node[fs=8.2,anchor=west] (tm8a) at (664,1541) {-8VA};
	% thick buses
	\node[circle,fill=busblue,inner sep=0pt,minimum size=7pt] (jblue) at (833,356) {};
	\draw[blueb,{Triangle[length=5pt,width=8pt]}-{Triangle[length=5pt,width=8pt]}] (s1201b.east |- jblue) -- (ic.west |- jblue);
	\draw[blueb,-{Triangle[length=5pt,width=8pt]}] (jblue) -- (833,1475) -- (1314,1475) -- (f17a.north -| 1314,0);
	\draw[blueb,-{Triangle[length=5pt,width=8pt]}] (i2sbox.west) -- (1242,545) -- (1242,356) -- (1021,356);
	\draw[blueb,-{Triangle[length=5pt,width=8pt]}] (playback.south -| 1148,0) -- (dac.north -| 1148,0);
	\draw[blueb,-{Triangle[length=5pt,width=8pt]}] (adc.north -| 1388,0) -- (i2sbox.south -| 1388,0);
	\draw[blueb,-{Triangle[length=5pt,width=8pt]}] (f17a.north -| 1680,0) -- (ic.south -| 1680,0);
	\pic at (1149,790) {cut};
	\pic at (1388,790) {cut};
	\node[fs=7.5] (c3d) at (1158,796) {3};
	\node[fs=7.5] (c3e) at (1397,792) {3};
	\node[fs=12,anchor=west] (ti2s2) at (1163,783) {I2S\lo{2}};
	\node[fs=12,anchor=east] (ti2s3) at (1378,783) {I2S\lo{3}};
	\node[circle,fill=busred,inner sep=0pt,minimum size=7pt] (jred) at (1737,1197.5) {};
	\draw[redb,-{Triangle[length=5pt,width=9pt]}] (jred) -- (pot.east |- jred);
	\draw[redb,-{Triangle[length=5pt,width=7pt,reversed]Triangle[length=5pt,width=7pt]}] (jred) -- (ic.south -| jred);
	\draw[redb,-{Triangle[length=5pt,width=7pt,reversed]Triangle[length=5pt,width=7pt]}] (jred) -- (s1007.west |- jred);
	\pic at (2350,1198) {cut};
	\node[fs=7.5] (c2b) at (2345,1183) {2};
\end{tikzpicture}
\end{document}
